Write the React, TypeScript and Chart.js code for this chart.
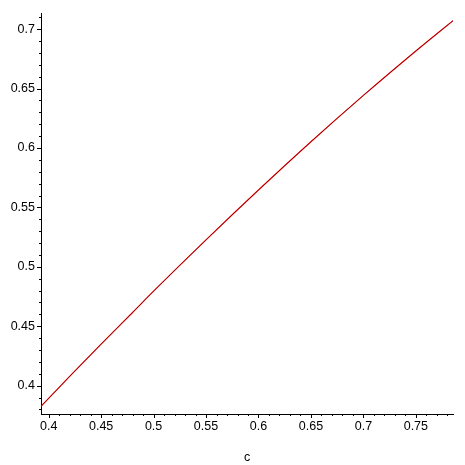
import React, { useEffect, useRef } from "react";
import { Chart, registerables } from "chart.js";

Chart.register(...registerables);

// values
const cValues: number[] = [0.3927, 0.42, 0.45, 0.48, 0.5, 0.55, 0.6, 0.65, 0.7, 0.75, 0.7854];
const blackValues: number[] = [0.3827, 0.4078, 0.435, 0.4616, 0.4795, 0.5227, 0.5646, 0.6052, 0.6442, 0.6816, 0.7071];
const redValues: number[] = [0.3827, 0.4078, 0.435, 0.4616, 0.4795, 0.5227, 0.5646, 0.6052, 0.6442, 0.6816, 0.7071];

const xTitle = "c";
const FONT = '"Liberation Sans", Arial, sans-serif';

const isMajor = (v: number) => Math.abs(v * 20 - Math.round(v * 20)) < 1e-6;
const fmt = (v: number) => String(Number(v.toFixed(2)));

// Maple-like outward tick marks, long at labelled values, short between
const tickMarks = {
  id: "tickMarks",
  afterDraw(chart: Chart) {
    const { ctx, chartArea } = chart;
    const xs: any = chart.scales.x;
    const ys: any = chart.scales.y;
    ctx.save();
    ctx.strokeStyle = "#000";
    ctx.lineWidth = 1;
    ctx.beginPath();
    xs.ticks.forEach((t: any) => {
      const px = Math.round(xs.getPixelForValue(t.value)) + 0.5;
      const len = isMajor(t.value) ? 4 : 2;
      ctx.moveTo(px, chartArea.bottom);
      ctx.lineTo(px, chartArea.bottom + len);
    });
    ys.ticks.forEach((t: any) => {
      const py = Math.round(ys.getPixelForValue(t.value)) + 0.5;
      const len = isMajor(t.value) ? 4 : 2;
      ctx.moveTo(chartArea.left, py);
      ctx.lineTo(chartArea.left - len, py);
    });
    ctx.stroke();
    ctx.restore();
  },
};

const MaplePlot: React.FC = () => {
  const chartRef = useRef<HTMLCanvasElement | null>(null);
  const chartInstance = useRef<Chart | null>(null);

  useEffect(() => {
    if (!chartRef.current) return;
    if (chartInstance.current) chartInstance.current.destroy();
    const ctx = chartRef.current.getContext("2d");
    if (!ctx) return;

    chartInstance.current = new Chart(ctx, {
      type: "line",
      data: {
        datasets: [
          {
            data: cValues.map((c, i) => ({ x: c, y: blackValues[i] })),
            borderColor: "#000000",
            borderWidth: 0.4,
            pointRadius: 0,
            cubicInterpolationMode: "monotone",
          },
          {
            data: cValues.map((c, i) => ({ x: c, y: redValues[i] })),
            borderColor: "#ff0000",
            borderWidth: 1.2,
            pointRadius: 0,
            cubicInterpolationMode: "monotone",
          },
        ],
      },
      options: {
        animation: false,
        responsive: true,
        maintainAspectRatio: false,
        layout: { padding: { top: 3, right: 12, left: 0, bottom: 0 } },
        plugins: { legend: { display: false }, tooltip: { enabled: false } },
        scales: {
          x: {
            type: "linear",
            min: 0.3927,
            max: 0.7854,
            afterFit: (s: any) => {
              s.height = 51;
            },
            grid: { display: false, drawTicks: false },
            border: { display: true, color: "#000", width: 1 },
            ticks: {
              stepSize: 0.01,
              includeBounds: false,
              autoSkip: false,
              maxRotation: 0,
              padding: 5,
              color: "#000",
              font: { family: FONT, size: 12.5 },
              callback: (v: any) => (isMajor(Number(v)) ? fmt(Number(v)) : ""),
            },
            title: {
              display: true,
              text: xTitle,
              color: "#000",
              font: { family: FONT, size: 12.5 },
              padding: { top: 0, bottom: 0 },
            },
          },
          y: {
            type: "linear",
            min: 0.3762,
            max: 0.7131,
            afterFit: (s: any) => {
              s.width = 41;
            },
            grid: { display: false, drawTicks: false },
            border: { display: true, color: "#000", width: 1 },
            ticks: {
              stepSize: 0.01,
              includeBounds: false,
              autoSkip: false,
              padding: 6,
              color: "#000",
              font: { family: FONT, size: 12.5 },
              callback: (v: any) => (isMajor(Number(v)) ? fmt(Number(v)) : ""),
            },
          },
        },
      },
      plugins: [tickMarks],
    });

    return () => {
      if (chartInstance.current) {
        chartInstance.current.destroy();
        chartInstance.current = null;
      }
    };
  }, []);

  return <canvas ref={chartRef} />;
};

export default function App() {
  return (
    <div style={{ position: "absolute", left: 0, top: 0, width: 465, height: 465, background: "#fff" }}>
      <MaplePlot />
    </div>
  );
}
